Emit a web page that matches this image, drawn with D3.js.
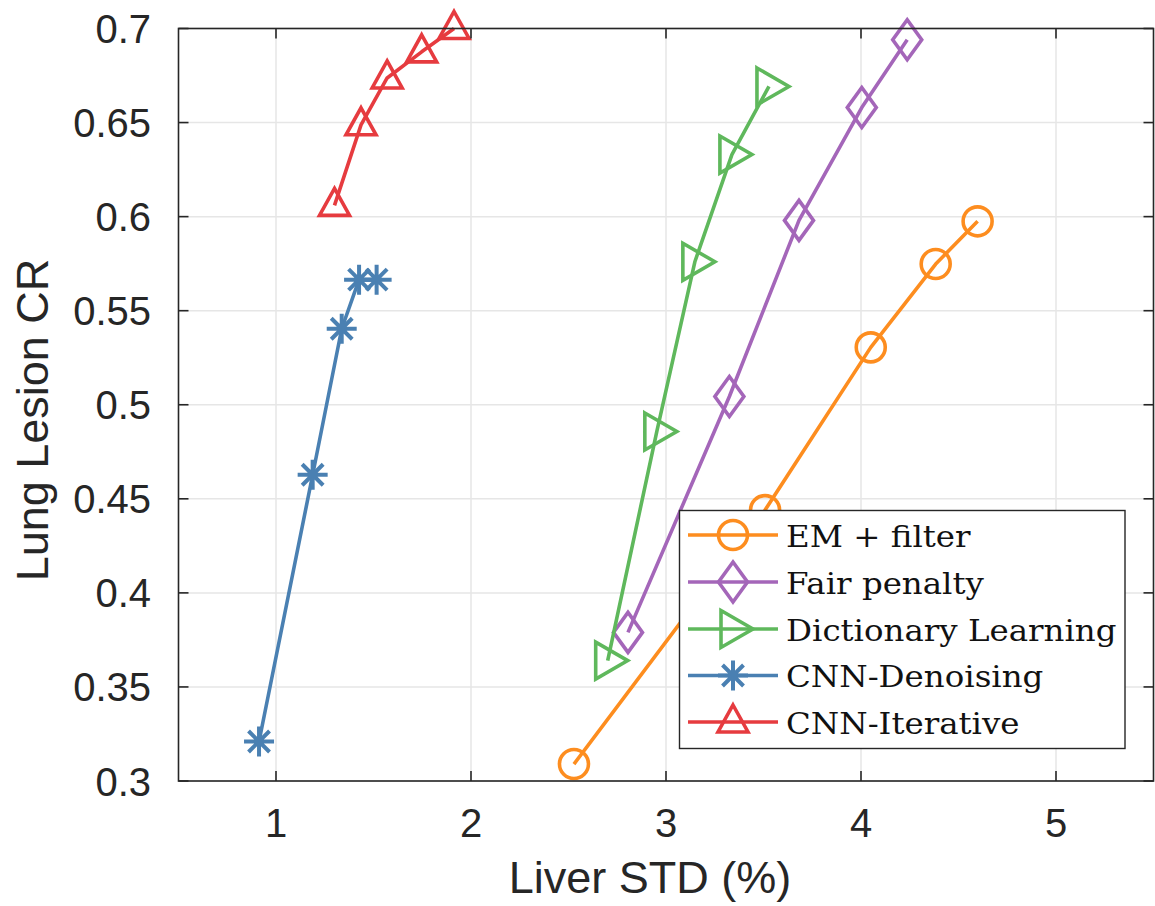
<!DOCTYPE html>
<html><head><meta charset="utf-8">
<script src="https://cdn.jsdelivr.net/npm/d3@7"></script>
<style>body{margin:0;background:#fff}svg{display:block}</style>
</head><body><svg id="c" width="1155" height="906"></svg>
<script>
const seriesNames = ["EM + filter","Fair penalty","Dictionary Learning","CNN-Denoising","CNN-Iterative"];
const seriesColors = ["#fd8d1f","#a466b9","#5fb85c","#4a80b2","#e63b3f"];
const seriesMarkers = ["circle","diamond","triright","star","triup"];
const emX = [2.528, 3.508, 4.05, 4.383, 4.598];
const emY = [0.309, 0.444, 0.5305, 0.5748, 0.5975];
const fairX = [2.805, 3.325, 3.682, 4.004, 4.237];
const fairY = [0.379, 0.5044, 0.598, 0.658, 0.694];
const dictX = [2.701, 2.953, 3.148, 3.338, 3.528];
const dictY = [0.364, 0.4858, 0.576, 0.633, 0.6692];
const cnnDX = [0.913, 1.188, 1.337, 1.426, 1.516];
const cnnDY = [0.321, 0.4628, 0.5404, 0.5665, 0.5665];
const cnnIX = [1.30, 1.436, 1.570, 1.747, 1.913];
const cnnIY = [0.606, 0.6488, 0.6737, 0.6876, 0.700];
const xTicks = [1,2,3,4,5];
const yTicks = [0.3,0.35,0.4,0.45,0.5,0.55,0.6,0.65,0.7];
const xLabel = "Liver STD (%)";
const yLabel = "Lung Lesion CR";

const seriesX = [emX, fairX, dictX, cnnDX, cnnIX];
const seriesY = [emY, fairY, dictY, cnnDY, cnnIY];

const L = 178.5, R = 1153.5, T = 28.5, B = 781;
const x = d3.scaleLinear().domain([0.5,5.5]).range([L,R]);
const y = d3.scaleLinear().domain([0.3,0.7]).range([B,T]);
const svg = d3.select("#c");
const axisCol = "#262626";
const sans = "'Liberation Sans', Arial, sans-serif";
const SW = 3.6;

// grid
const g = svg.append("g");
g.selectAll(".gx").data(xTicks).join("line")
  .attr("x1", d=>x(d)).attr("x2", d=>x(d)).attr("y1", T).attr("y2", B)
  .attr("stroke", "#e6e6e6").attr("stroke-width", 1.5);
g.selectAll(".gy").data(yTicks).join("line")
  .attr("y1", d=>y(d)).attr("y2", d=>y(d)).attr("x1", L).attr("x2", R)
  .attr("stroke", "#e6e6e6").attr("stroke-width", 1.5);

function drawMarker(sel, type, color){
  const sw = SW;
  if(type==="circle"){
    sel.append("circle").attr("r",14.5).attr("fill","none").attr("stroke",color).attr("stroke-width",sw);
  } else if(type==="diamond"){
    sel.append("path").attr("d","M0,-20L14.5,0L0,20L-14.5,0Z").attr("fill","none").attr("stroke",color).attr("stroke-width",sw);
  } else if(type==="triright"){
    sel.append("path").attr("d","M-12,-18.5L20,0L-12,18.5Z").attr("fill","none").attr("stroke",color).attr("stroke-width",sw);
  } else if(type==="triup"){
    sel.append("path").attr("d","M0,-17L15,10L-15,10Z").attr("fill","none").attr("stroke",color).attr("stroke-width",sw);
  } else if(type==="star"){
    sel.append("path").attr("d","M-15,0L15,0M0,-15L0,15M-10.5,-10.5L10.5,10.5M-10.5,10.5L10.5,-10.5").attr("fill","none").attr("stroke",color).attr("stroke-width",sw+0.4);
  }
}

const line = d3.line().x(d=>x(d[0])).y(d=>y(d[1]));
const plot = svg.append("g");
seriesNames.forEach((name,i)=>{
  const pts = seriesX[i].map((v,j)=>[v, seriesY[i][j]]);
  plot.append("path").datum(pts).attr("d", line).attr("fill","none")
    .attr("stroke", seriesColors[i]).attr("stroke-width", SW).attr("stroke-linejoin","round");
  pts.forEach(p=>{
    const m = plot.append("g").attr("transform", `translate(${x(p[0])},${y(p[1])})`);
    drawMarker(m, seriesMarkers[i], seriesColors[i]);
  });
});

// axes box
const ax = svg.append("g");
ax.append("rect").attr("x",L).attr("y",T).attr("width",R-L).attr("height",B-T)
  .attr("fill","none").attr("stroke",axisCol).attr("stroke-width",1.6);
xTicks.forEach(t=>{
  ax.append("line").attr("x1",x(t)).attr("x2",x(t)).attr("y1",B).attr("y2",B-10).attr("stroke",axisCol).attr("stroke-width",1.6);
  ax.append("line").attr("x1",x(t)).attr("x2",x(t)).attr("y1",T).attr("y2",T+10).attr("stroke",axisCol).attr("stroke-width",1.6);
  ax.append("text").attr("x",x(t)).attr("y",837).attr("text-anchor","middle")
    .attr("font-family",sans).attr("font-size",40).attr("fill",axisCol).text(d3.format("d")(t));
});
yTicks.forEach(t=>{
  ax.append("line").attr("y1",y(t)).attr("y2",y(t)).attr("x1",L).attr("x2",L+10).attr("stroke",axisCol).attr("stroke-width",1.6);
  ax.append("line").attr("y1",y(t)).attr("y2",y(t)).attr("x1",R).attr("x2",R-10).attr("stroke",axisCol).attr("stroke-width",1.6);
  ax.append("text").attr("x",151).attr("y",y(t)+14.5).attr("text-anchor","end")
    .attr("font-family",sans).attr("font-size",40).attr("fill",axisCol).text(String(+t.toFixed(2)));
});
svg.append("text").attr("x",650).attr("y",893).attr("text-anchor","middle")
  .attr("font-family",sans).attr("font-size",45).attr("fill",axisCol).text(xLabel);
svg.append("text").attr("transform",`translate(48,420) rotate(-90)`).attr("text-anchor","middle")
  .attr("font-family",sans).attr("font-size",45).attr("fill",axisCol).text(yLabel);

// legend
const lg = svg.append("g");
lg.append("rect").attr("x",679.5).attr("y",510.5).attr("width",445.5).attr("height",238)
  .attr("fill","#fff").attr("stroke",axisCol).attr("stroke-width",1.4);
const rowY = [535, 582, 629, 675.5, 722];
seriesNames.forEach((name,i)=>{
  const ry = rowY[i];
  lg.append("line").attr("x1",688).attr("x2",778).attr("y1",ry).attr("y2",ry)
    .attr("stroke",seriesColors[i]).attr("stroke-width",SW);
  const m = lg.append("g").attr("transform",`translate(733,${ry})`);
  drawMarker(m, seriesMarkers[i], seriesColors[i]);
  lg.append("text").attr("transform",`translate(786,${ry+11.5}) scale(1.12,1)`)
    .attr("font-family","'DejaVu Serif', serif").attr("font-size",29).attr("fill","#111").text(name);
});
</script></body></html>
